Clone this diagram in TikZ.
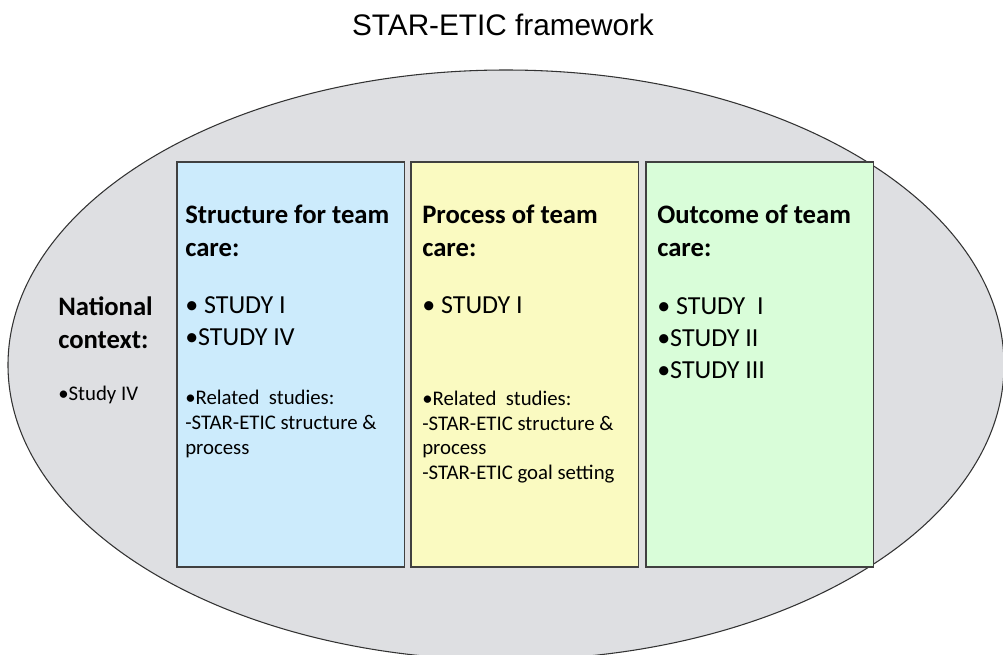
\documentclass[tikz,border=0pt]{standalone}
\usepackage{fontspec}
\setmainfont{Carlito}
\newfontfamily\titlefont{Liberation Sans}
\definecolor{fondo}{RGB}{222,223,226}
\definecolor{azul}{RGB}{204,235,252}
\definecolor{amarillo}{RGB}{250,250,193}
\definecolor{verde}{RGB}{217,253,217}
\newcommand{\titulo}{\titlefont\fontsize{22.3}{27}\selectfont}
\newcommand{\encabezado}{\fontsize{20}{24.75}\selectfont\bfseries}
\newcommand{\estudios}{\fontsize{19.5}{24}\selectfont}
\newcommand{\pequeno}{\fontsize{15.6}{18.4}\selectfont}

\begin{document}
\begin{tikzpicture}[x=0.75pt,y=-0.75pt,
    caja/.style={draw=black!75,line width=0.8pt,anchor=north west,inner sep=0pt,outer sep=0pt,
                 minimum width=170.6pt,minimum height=303.75pt},
    texto/.style={anchor=base west,align=left,inner sep=0pt}]
    \useasboundingbox (0,0) rectangle (1003,654);
    % Titulo
    \node[anchor=base,inner sep=0pt,font=\titulo] (titulo) at (503,35) {STAR-ETIC framework};
    % Elipse de fondo
    \draw[fill=fondo,draw=black!80,line width=0.8pt] (506,365) ellipse [x radius=498, y radius=295];
    % Cajas
    \node[caja,fill=azul] (estructura) at (177,162) {};
    \node[caja,fill=amarillo] (proceso) at (411,162) {};
    \node[caja,fill=verde] (resultado) at (646,162) {};
    % Contexto nacional (base = ultima linea)
    \node[texto,font=\encabezado] (nacional) at (58,348.5) {National\\context:};
    \node[texto,font=\pequeno] (nacest) at (58,400) {•Study IV};
    % Estructura
    \node[texto,font=\encabezado] (esttit) at (185,256.7) {Structure for team\\care:};
    \node[texto,font=\estudios] (estlista) at (185,345) {• STUDY I\\•STUDY IV};
    \node[texto,font=\pequeno] (estrel) at (185,454) {•Related~ studies:\\-STAR-ETIC structure \&\\process};
    % Proceso
    \node[texto,font=\encabezado] (protit) at (422,256.7) {Process of team\\care:};
    \node[texto,font=\estudios] (prolista) at (422,313.5) {• STUDY I};
    \node[texto,font=\pequeno] (prorel) at (422,479.5) {•Related~ studies:\\-STAR-ETIC structure \&\\process\\-STAR-ETIC goal setting};
    % Resultado
    \node[texto,font=\encabezado] (restit) at (657,256.7) {Outcome of team\\care:};
    \node[texto,font=\estudios] (reslista) at (657,378.5) {• STUDY~ I\\•STUDY II\\•STUDY III};
\end{tikzpicture}
\end{document}
